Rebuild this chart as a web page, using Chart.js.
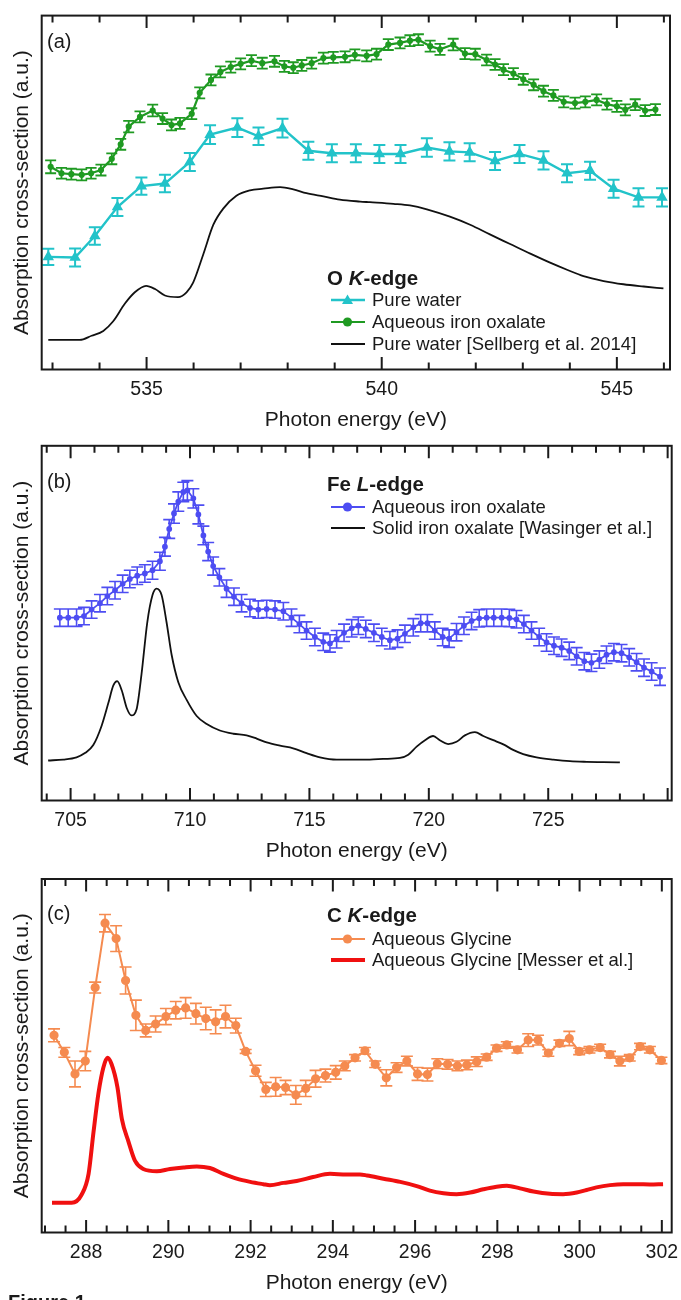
<!DOCTYPE html>
<html><head><meta charset="utf-8">
<script src="https://cdn.jsdelivr.net/npm/chart.js@4.4.1/dist/chart.umd.min.js"></script>
<style>
html,body{margin:0;padding:0;background:#fff;}
body{width:681px;height:1300px;position:relative;overflow:hidden;font-family:'Liberation Sans',Arial,Helvetica,sans-serif;color:#1a1a1a;}
canvas{position:absolute;left:0;}
.t{position:absolute;white-space:nowrap;}
.lt{font-weight:bold;font-size:20.5px;line-height:24px;}
.le{font-size:18.5px;line-height:22px;}
.pl{font-size:20px;line-height:24px;}
.fig{font-weight:bold;font-size:20px;line-height:20px;}
svg.sym{position:absolute;overflow:visible;}
</style></head><body>
<canvas id="ca" width="681" height="422" style="top:9px"></canvas>
<canvas id="cb" width="681" height="422" style="top:440px"></canvas>
<canvas id="cc" width="681" height="421" style="top:873px"></canvas>
<script>
// ---------- Panel (a): O K-edge ----------
const aGreenE = [532.96,533.19,533.40,533.62,533.82,534.03,534.26,534.45,534.62,534.86,535.13,535.34,535.53,535.71,535.96,536.13,536.37,536.57,536.79,537.00,537.23,537.46,537.72,537.93,538.12,538.30,538.51,538.76,538.97,539.22,539.43,539.68,539.89,540.14,540.39,540.60,540.78,541.03,541.24,541.52,541.77,541.99,542.23,542.41,542.59,542.80,543.01,543.23,543.44,543.65,543.87,544.11,544.33,544.57,544.79,545.00,545.18,545.39,545.60,545.82];
const aGreenY = [63,61,60.7,60.5,61,62,65.5,70,75.5,78.5,80.5,78,76,76.5,79.5,86,90,92.5,94,95,96,95.2,95.8,94.2,93.8,94.5,95.2,96.8,97,97.2,97.8,97.5,98,101,101.5,102.2,102.5,100.5,99.5,101,98.2,98,96.2,94.8,93.2,92,90.2,88.5,86.5,85.2,83.2,82.8,83.2,83.8,82.5,81.8,80.7,82.3,80.5,80.8];
const aGreenErr = [2.0,1.7,1.7,1.7,1.7,1.7,1.7,1.7,1.8,1.7,1.8,1.7,1.7,1.7,1.7,1.7,1.7,1.7,1.7,1.7,1.7,1.7,1.7,1.7,1.7,1.7,1.7,1.7,1.7,1.7,1.7,1.7,1.7,1.7,1.7,1.7,1.7,1.7,1.7,1.8,1.7,1.7,1.7,1.7,1.7,1.7,1.7,1.7,1.7,1.7,1.7,1.7,1.7,1.7,1.7,1.7,1.7,1.7,1.7,1.7];
const aCyanE = [532.91,533.48,533.90,534.38,534.89,535.39,535.92,536.35,536.93,537.38,537.89,538.44,538.94,539.45,539.95,540.40,540.96,541.44,541.87,542.41,542.93,543.44,543.94,544.43,544.93,545.46,545.96];
const aCyanY = [35,34.8,41.5,50.5,57,57.8,64.5,73,75.2,72.5,75,68,67.2,67.2,67,67,69,67.8,67.5,64.8,67,65,61,61.8,56.2,53.5,53.5];
const aCyanErr = [2.5,2.8,2.7,2.8,2.7,2.7,2.8,2.9,2.9,2.7,2.9,2.8,2.8,2.8,2.8,2.8,2.9,2.8,2.8,2.8,2.8,2.8,2.8,2.8,2.8,2.8,2.8];
const aRefE = [532.91,533.58,533.83,534.08,534.29,534.54,534.75,534.99,535.18,535.39,535.67,535.85,535.99,536.21,536.42,536.63,536.91,537.20,537.48,537.84,538.12,538.40,538.76,539.11,539.54,539.75,540.25,540.60,540.96,541.45,541.88,542.30,542.73,543.16,543.58,543.94,544.29,544.72,545.14,545.57,545.99];
const aRefY = [9.2,9.2,10.5,12,15,20.5,24,26,25,23,22.5,24,27,36,45,50,54,55.7,56.2,56.7,56,54.8,53.8,52.8,52.2,52,51.5,51,49.8,47.5,45,42,39,36,33.2,31,29,27.5,26.5,25.8,25.2];

// ---------- Panel (b): Fe L-edge ----------
const bBlueE = [704.55,704.90,705.25,705.56,705.88,706.23,706.54,706.86,707.18,707.48,707.79,708.11,708.43,708.74,708.95,709.13,709.33,709.51,709.72,709.89,710.14,710.35,710.56,710.76,710.97,711.23,711.53,711.84,712.16,712.51,712.86,713.21,713.56,713.91,714.25,714.58,714.88,715.23,715.58,715.86,716.14,716.45,716.77,717.05,717.36,717.70,718.03,718.37,718.69,719.00,719.35,719.66,719.94,720.25,720.58,720.85,721.16,721.47,721.79,722.11,722.42,722.72,723.05,723.37,723.67,723.98,724.30,724.62,724.93,725.24,725.56,725.88,726.19,726.51,726.81,727.14,727.44,727.75,728.07,728.39,728.70,729.01,729.33,729.68];
const bBlueY = [56.7,56.7,56.7,57.2,59.2,61.2,63.4,65.2,67.2,68.7,69.7,70.4,71.4,74.2,78.7,84.2,89,92.7,95.7,96.2,93.7,88.7,82.2,77.2,72.7,69.2,65.7,63.2,61.2,59.7,59.2,59.4,59.2,58.7,56.7,54.7,52.7,50.7,49.2,48.7,50,52,53.4,54.2,53.2,52,50.7,49.7,50.2,51.7,53.7,55,55,52.7,50.7,50.2,52.2,54.2,55.7,56.5,56.7,56.7,56.7,56.6,56.2,54.7,52.7,50.7,49,48,47.4,46.4,44.7,43.2,42.7,43.7,45.2,46,45.7,44.4,42.9,41.2,40,38.4];
const bBlueErr = [2.7,2.7,2.7,2.7,2.7,2.7,2.7,2.7,2.7,2.7,2.7,2.7,2.8,2.8,2.9,2.9,3.0,3.0,3.0,3.0,3.0,2.9,2.9,2.8,2.8,2.7,2.7,2.7,2.7,2.7,2.7,2.7,2.7,2.7,2.7,2.7,2.7,2.7,2.7,2.7,2.7,2.7,2.7,2.7,2.7,2.7,2.7,2.7,2.7,2.7,2.7,2.7,2.7,2.7,2.7,2.7,2.7,2.7,2.7,2.7,2.7,2.7,2.7,2.7,2.7,2.7,2.7,2.7,2.7,2.7,2.7,2.7,2.7,2.7,2.7,2.7,2.7,2.7,2.7,2.7,2.7,2.7,2.7,2.7];
const bRefE = [704.06,704.69,705.25,705.60,705.95,706.30,706.58,706.79,706.95,707.14,707.35,707.55,707.76,707.97,708.21,708.43,708.60,708.81,709.02,709.23,709.51,709.86,710.28,710.70,711.25,711.81,712.37,712.79,713.21,713.77,714.32,714.88,715.44,716.14,717.12,717.53,718.09,718.79,719.14,719.49,719.84,720.18,720.46,720.81,721.16,721.51,721.93,722.28,722.70,723.12,723.53,723.95,724.51,725.21,725.91,726.61,727.30,728.00];
const bRefY = [12.4,12.7,13.4,14.7,17.2,23.2,30.2,35.7,37,34.2,28.7,26.4,28.2,39.2,55.2,63.7,65.7,63.7,55.2,45.2,36.7,31.2,26.2,23.7,21.7,20.7,20.2,19.2,18,17,16.2,14.7,13.4,12.7,12.7,12.7,12.9,13.2,14.2,16.7,18.7,20,18.7,17.5,18.2,20.2,21.2,20,18.7,17.4,15.7,14.4,13.4,12.7,12.2,12,11.9,11.8];

// ---------- Panel (c): C K-edge ----------
const cOrgE = [287.22,287.47,287.73,287.98,288.22,288.46,288.73,288.96,289.21,289.45,289.69,289.94,290.18,290.42,290.67,290.91,291.15,291.39,291.64,291.88,292.12,292.37,292.61,292.85,293.10,293.34,293.58,293.82,294.07,294.29,294.54,294.78,295.03,295.30,295.55,295.80,296.06,296.30,296.54,296.79,297.03,297.26,297.50,297.74,297.98,298.23,298.49,298.75,298.99,299.24,299.51,299.75,299.99,300.24,300.50,300.74,300.98,301.22,301.47,301.71,301.99];
const cOrgY = [61.2,55.9,49.2,53.2,76,96,91.2,78.2,67.4,62.7,64.7,67,69,69.7,67.9,66.4,65.4,67,64.2,56.2,50.2,44.4,45.2,45,42.7,44.7,47.7,48.7,49.7,51.7,54.2,56.4,52.2,48,51.2,53.2,49.2,49,52.4,52.2,51.7,52,53,54.4,57.2,58.2,56.7,59.7,59.7,55.7,58.7,60.2,56.2,56.7,57.4,55.2,53.2,54.2,57.7,56.7,53.4];
const cOrgErr = [2,1.5,4,3,1.7,2.7,4,4.2,4.7,2,2.5,2.5,2.7,3.2,3.2,3.5,3.7,3.5,2.3,0.6,1.7,2.2,2.9,2.2,2.9,2.5,2.6,2,2.1,1.5,1,1,1,2.5,1.5,1.5,2,2,1.5,1.5,1.5,1.5,1.5,1,1,1,1,2,1.5,1,1,2.2,1,1,1,1,1.5,1,1,1,1];
const cRefE = [287.17,287.65,287.89,288.06,288.18,288.30,288.42,288.52,288.62,288.76,288.87,289.03,289.19,289.39,289.72,290.04,290.37,290.69,291.01,291.34,291.66,291.99,292.31,292.47,292.80,293.12,293.52,293.93,294.33,294.66,294.83,295.23,295.64,296.04,296.36,296.69,297.01,297.34,297.66,297.98,298.23,298.55,298.88,299.28,299.60,299.93,300.17,300.41,300.74,301.06,301.39,301.71,302.03];
const cRefY = [9.2,9.2,11.7,18.2,31.2,43.2,51.2,54.2,52.2,45.2,35.2,28.2,22.2,19.7,19,19.7,20.2,20.5,20,18.2,16.7,15.7,15,14.7,15.4,16,17.2,18.2,18,18,17.7,16.7,15.7,14.4,13,12.2,11.9,12.4,13.4,14.2,14.5,13.7,12.7,12,11.9,12.4,13.2,14,14.7,15,15,14.9,15];

const GREEN='#1f9a22', CYAN='#22c3c9', BLUE='#4d4df2', ORANGE='#f58b50', RED='#f01010', BLACK='#111111';

Chart.defaults.font.family = "'Liberation Sans', Arial, Helvetica, sans-serif";
Chart.defaults.color = '#1a1a1a';

const pts = (xs, ys) => xs.map((x, i) => ({x: x, y: ys[i]}));

const errorBars = {
  id: 'errorBars',
  afterDatasetsDraw(chart) {
    const ctx = chart.ctx, ys = chart.scales.y;
    chart.data.datasets.forEach((ds, i) => {
      if (!ds.errors) return;
      const meta = chart.getDatasetMeta(i);
      ctx.save();
      ctx.strokeStyle = ds.borderColor;
      ctx.lineWidth = ds.errWidth;
      ctx.beginPath();
      meta.data.forEach((pt, j) => {
        const d = ds.data[j], e = ds.errors[j], w = ds.capHalf;
        const yt = ys.getPixelForValue(d.y + e), yb = ys.getPixelForValue(d.y - e);
        ctx.moveTo(pt.x, yt); ctx.lineTo(pt.x, yb);
        ctx.moveTo(pt.x - w, yt); ctx.lineTo(pt.x + w, yt);
        ctx.moveTo(pt.x - w, yb); ctx.lineTo(pt.x + w, yb);
      });
      ctx.stroke();
      ctx.restore();
    });
  }
};

const frameTicks = {
  id: 'frameTicks',
  afterDraw(chart, args, opts) {
    const ctx = chart.ctx, a = chart.chartArea, x = chart.scales.x;
    ctx.save();
    ctx.strokeStyle = '#1a1a1a';
    ctx.lineWidth = 2;
    const n0 = Math.ceil(x.min / opts.step - 1e-9), n1 = Math.floor(x.max / opts.step + 1e-9);
    ctx.beginPath();
    for (let n = n0; n <= n1; n++) {
      const v = n * opts.step;
      const px = x.getPixelForValue(v);
      const r = v / opts.major;
      const len = Math.abs(r - Math.round(r)) < 1e-6 ? 12.5 : 7;
      ctx.moveTo(px, a.bottom); ctx.lineTo(px, a.bottom - len);
      ctx.moveTo(px, a.top); ctx.lineTo(px, a.top + len);
    }
    ctx.stroke();
    ctx.strokeRect(a.left, a.top, a.right - a.left, a.bottom - a.top);
    ctx.restore();
  }
};

function makeChart(id, cfg) {
  return new Chart(document.getElementById(id), {
    type: 'line',
    data: {datasets: cfg.datasets},
    options: {
      responsive: false, animation: false, devicePixelRatio: 1,
      layout: {padding: {left: 0, right: cfg.padRight, top: cfg.padTop, bottom: 0}},
      plugins: {legend: {display: false}, tooltip: {enabled: false},
                frameTicks: {step: cfg.minor, major: cfg.major}},
      scales: {
        x: {type: 'linear', min: cfg.xmin, max: cfg.xmax,
            grid: {display: false, drawTicks: false}, border: {display: false},
            afterFit: s => { s.paddingLeft = 0; s.paddingRight = 0; },
            ticks: {stepSize: cfg.labelStep, includeBounds: false, autoSkip: false, maxRotation: 0, minRotation: 0,
                    padding: 10.25, font: {size: 19.5, lineHeight: 1},
                    callback: v => (v <= cfg.labelMax ? String(v) : '')},
            title: {display: true, text: 'Photon energy (eV)', font: {size: 21, lineHeight: 1}, padding: {top: 0.5, bottom: 0}}},
        y: {type: 'linear', min: cfg.ymin, max: cfg.ymax,
            ticks: {display: false}, grid: {display: false, drawTicks: false}, border: {display: false},
            title: {display: true, text: 'Absorption cross-section (a.u.)', font: {size: 21, lineHeight: 1}, padding: {top: 11.5, bottom: 9.2}}}
      }
    },
    plugins: [errorBars, frameTicks]
  });
}

makeChart('ca', {
  xmin: 532.77, xmax: 546.13, ymin: 0, ymax: 110, padRight: 11, padTop: 4.3,
  minor: 1, major: 5, labelStep: 5, labelMax: 545,
  datasets: [
    {data: pts(aRefE, aRefY), borderColor: BLACK, borderWidth: 1.8, pointRadius: 0, cubicInterpolationMode: 'monotone', fill: false},
    {data: pts(aCyanE, aCyanY), borderColor: CYAN, backgroundColor: CYAN, borderWidth: 2.4, pointStyle: 'triangle', pointRadius: 4.2,
     errors: aCyanErr, capHalf: 6, errWidth: 2},
    {data: pts(aGreenE, aGreenY), borderColor: GREEN, backgroundColor: GREEN, borderWidth: 2.2, pointStyle: 'circle', pointRadius: 2,
     errors: aGreenErr, capHalf: 5.5, errWidth: 1.8}
  ]
});

makeChart('cb', {
  xmin: 703.79, xmax: 730.17, ymin: 0, ymax: 110, padRight: 9.3, padTop: 4,
  minor: 1, major: 5, labelStep: 5, labelMax: 725,
  datasets: [
    {data: pts(bRefE, bRefY), borderColor: BLACK, borderWidth: 1.8, pointRadius: 0, cubicInterpolationMode: 'monotone', fill: false},
    {data: pts(bBlueE, bBlueY), borderColor: BLUE, backgroundColor: BLUE, borderWidth: 1.8, pointStyle: 'circle', pointRadius: 2,
     errors: bBlueErr, capHalf: 6, errWidth: 1.6}
  ]
});

makeChart('cc', {
  xmin: 286.92, xmax: 302.24, ymin: 0, ymax: 109.7, padRight: 9.3, padTop: 4,
  minor: 0.5, major: 2, labelStep: 2, labelMax: 302,
  datasets: [
    {data: pts(cRefE, cRefY), borderColor: RED, borderWidth: 4, pointRadius: 0, cubicInterpolationMode: 'monotone', fill: false},
    {data: pts(cOrgE, cOrgY), borderColor: ORANGE, backgroundColor: ORANGE, borderWidth: 2, pointStyle: 'circle', pointRadius: 3.6,
     errors: cOrgErr, capHalf: 6, errWidth: 1.6}
  ]
});

// ---------- overlay text (legends, panel labels) ----------
function addText(html, cls, left, cy, h) {
  const d = document.createElement('div');
  d.className = 't ' + cls; d.innerHTML = html;
  d.style.left = left + 'px'; d.style.top = (cy - h / 2) + 'px';
  document.body.appendChild(d);
}
function addSym(cy, color, marker, lw) {
  const ns = 'http://www.w3.org/2000/svg';
  const s = document.createElementNS(ns, 'svg');
  s.setAttribute('class', 'sym'); s.setAttribute('width', '40'); s.setAttribute('height', '14');
  s.style.left = '328px'; s.style.top = (cy - 7) + 'px';
  let inner = '<line x1="3" y1="7" x2="37" y2="7" stroke="' + color + '" stroke-width="' + lw + '"/>';
  if (marker === 'circle') inner += '<circle cx="19.5" cy="7" r="4.6" fill="' + color + '"/>';
  if (marker === 'triangle') inner += '<polygon points="19.5,1.5 25,11 14,11" fill="' + color + '"/>';
  s.innerHTML = inner;
  document.body.appendChild(s);
}
function legendRow(cy, color, marker, lw, text) {
  addSym(cy, color, marker, lw);
  addText(text, 'le', 372, cy, 22);
}

addText('(a)', 'pl', 47, 41.3, 24);
addText('O <i>K</i>-edge', 'lt', 327, 278, 24);
legendRow(300, CYAN, 'triangle', 2.4, 'Pure water');
legendRow(321.7, GREEN, 'circle', 2.2, 'Aqueous iron oxalate');
legendRow(343.5, BLACK, 'none', 1.8, 'Pure water [Sellberg et al. 2014]');

addText('(b)', 'pl', 47, 480.5, 24);
addText('Fe <i>L</i>-edge', 'lt', 327, 484, 24);
legendRow(507, BLUE, 'circle', 2, 'Aqueous iron oxalate');
legendRow(527.5, BLACK, 'none', 1.8, 'Solid iron oxalate [Wasinger et al.]');

addText('(c)', 'pl', 47, 913, 24);
addText('C <i>K</i>-edge', 'lt', 327, 915, 24);
legendRow(939, ORANGE, 'circle', 2, 'Aqueous Glycine');
legendRow(960, RED, 'none', 4, 'Aqueous Glycine [Messer et al.]');

addText('Figure 1', 'fig', 8, 1302.4, 20);
</script>
</body></html>
